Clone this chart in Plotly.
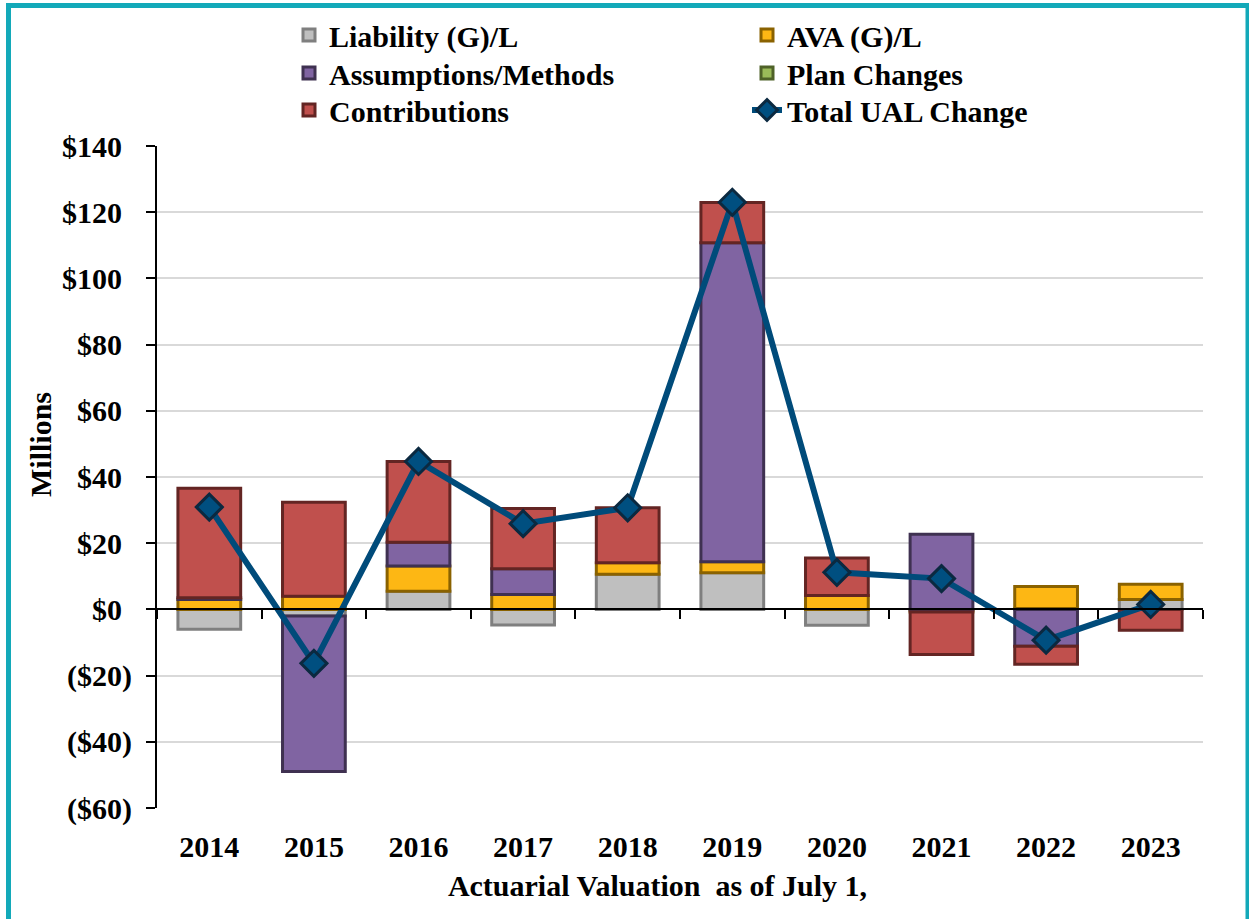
import plotly.graph_objects as go

years = ['2014', '2015', '2016', '2017', '2018', '2019', '2020', '2021', '2022', '2023']
liability = [-6.0, -2.0, 5.5, -4.7, 10.6, 11.1, -4.8, -0.3, 0.3, 3.0]
ava = [3.0, 4.0, 7.6, 4.5, 3.5, 3.3, 4.2, -0.5, 6.6, 4.6]
assumptions = [0.5, -47.0, 7.2, 7.8, None, 96.4, None, 22.7, -11.1, None]
plan_changes = [None] * 10
contributions = [33.1, 28.4, 24.4, 18.2, 16.6, 12.1, 11.3, -12.8, -5.5, -6.3]
total = [30.9, -16.3, 44.7, 25.9, 30.7, 123.0, 11.2, 9.3, -9.3, 1.5]

tick_vals = [-60, -40, -20, 0, 20, 40, 60, 80, 100, 120, 140]
tick_text = ['($60)', '($40)', '($20)', '$0\u2004', '$20\u2004', '$40\u2004', '$60\u2004',
             '$80\u2004', '$100\u2004', '$120\u2004', '$140\u2004']

FONT = dict(family='Liberation Serif, Times New Roman, serif', size=30, color='black', weight='bold')

W, H = 1249, 919
L, R, T, B = 157, 46, 146, 111
PW, PH = W - L - R, H - T - B


def px_x(p):
    return (p - L) / PW


def px_y(p):
    return (H - B - p) / PH


fig = go.Figure()

series = [
    ('Liability (G)/L', liability, '#BFBFBF', '#7F7F7F', 'legend'),
    ('AVA (G)/L', ava, '#FDB714', '#8A6200', 'legend'),
    ('Assumptions/Methods', assumptions, '#8064A2', '#3F3151', 'legend2'),
    ('Plan Changes', plan_changes, '#9BBB59', '#4F6228', 'legend2'),
    ('Contributions', contributions, '#C0504D', '#632523', 'legend3'),
]
for name, vals, fill, edge, lg in series:
    fig.add_trace(go.Bar(
        x=years, y=vals, name=name, legend=lg,
        marker=dict(color=fill, line=dict(color=edge, width=3)),
        width=0.6,
    ))

fig.add_trace(go.Scatter(
    x=years, y=total, name='Total UAL Change', legend='legend3',
    mode='lines+markers',
    line=dict(color='#004B7A', width=6),
    marker=dict(symbol='diamond', size=20, color='#004F80',
                line=dict(color='#0B2940', width=3)),
))

# invisible helper trace for the zero-line category axis
fig.add_trace(go.Scatter(
    x=years, y=[0] * len(years), xaxis='x2', mode='markers',
    marker=dict(opacity=0), showlegend=False, hoverinfo='skip',
))

leg_common = dict(orientation='h', xanchor='left', yanchor='middle',
                  font=FONT, entrywidth=413, entrywidthmode='pixels',
                  bgcolor='rgba(0,0,0,0)', itemclick=False)

fig.update_layout(
    width=W, height=H,
    margin=dict(l=L, r=R, t=T, b=B, autoexpand=False),
    paper_bgcolor='white', plot_bgcolor='white',
    barmode='relative',
    font=FONT,
    showlegend=True,
    legend=dict(x=px_x(289), y=px_y(35), **leg_common),
    legend2=dict(x=px_x(289), y=px_y(73), **leg_common),
    legend3=dict(x=px_x(289), y=px_y(110), **leg_common),
    xaxis=dict(
        type='category', categoryorder='array', categoryarray=years,
        range=[-0.5, 9.5], showline=False, ticks='', showgrid=False,
        tickfont=FONT, ticklabelstandoff=18,
        title=dict(text='Actuarial Valuation\u00a0 as of July 1,\u2003\u2002\u200b',
                   font=FONT, standoff=12),
        automargin=False,
    ),
    xaxis2=dict(
        type='category', categoryorder='array', categoryarray=years,
        range=[-0.5, 9.5], overlaying='x', anchor='free', position=0.3,
        side='bottom', showline=True, linecolor='black', linewidth=2,
        ticks='outside', tickson='boundaries', ticklen=9, tickwidth=2,
        tickcolor='black', showticklabels=False, showgrid=False,
        layer='above traces', automargin=False,
    ),
    yaxis=dict(
        range=[-60, 140], tickvals=tick_vals, ticktext=tick_text,
        showgrid=True, gridcolor='#D9D9D9', gridwidth=1.5,
        zeroline=False, showline=True, linecolor='black', linewidth=2,
        ticks='outside', ticklen=9, tickwidth=2, tickcolor='black',
        tickfont=FONT, ticklabelstandoff=8,
        title=dict(text='\u200b\u2003\u2003\u2006Millions', font=FONT, standoff=1),
        automargin=False,
    ),
    shapes=[dict(
        type='rect', xref='paper', yref='paper',
        x0=px_x(8.5), x1=px_x(1248), y0=px_y(930), y1=px_y(5.5),
        line=dict(color='#13A9B9', width=5), fillcolor='rgba(0,0,0,0)',
        layer='above',
    )],
)

fig.write_html('out.html', config={'displayModeBar': False},
               post_script="document.body.style.margin='0';")
